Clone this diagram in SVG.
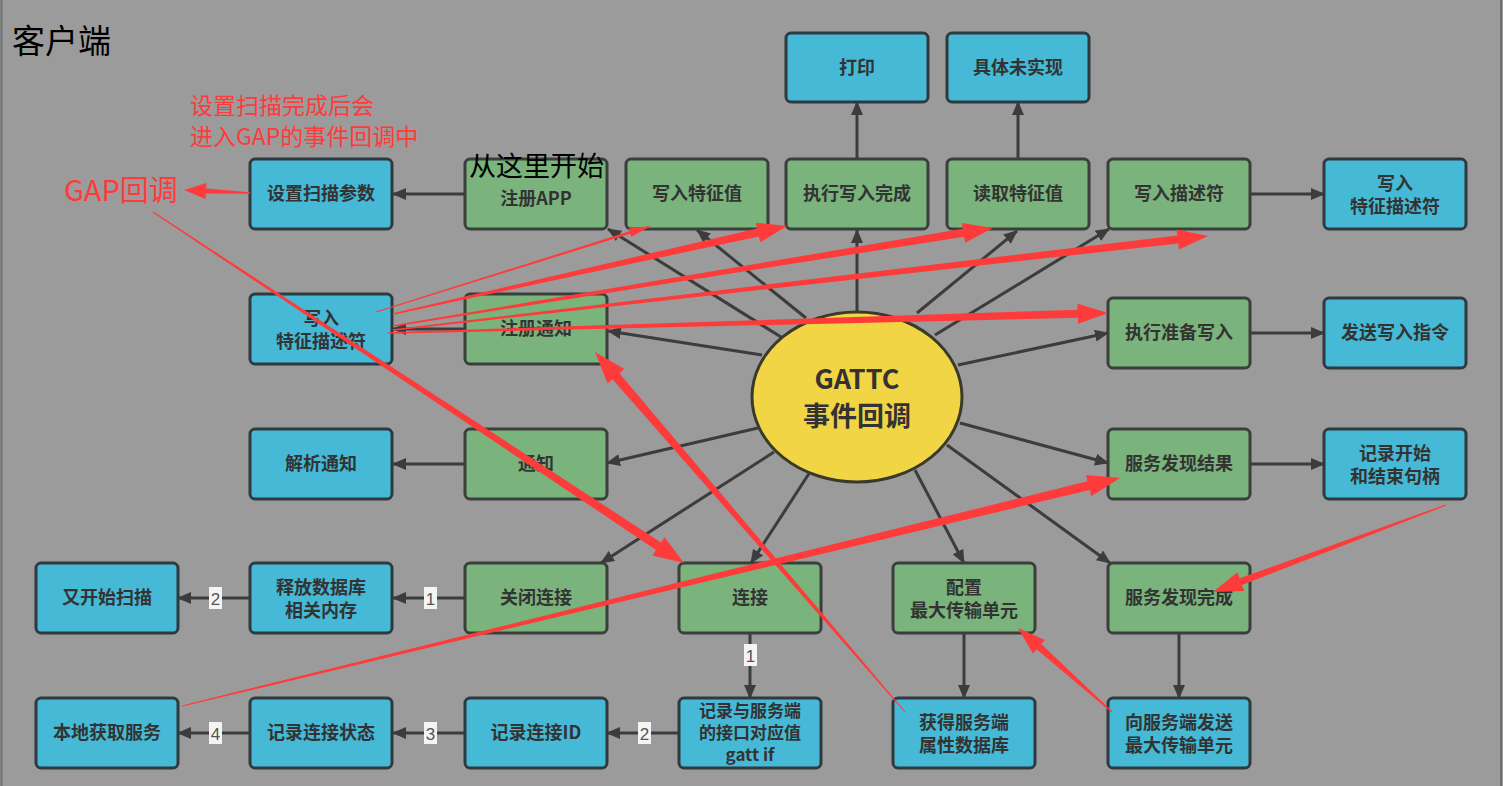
<svg xmlns="http://www.w3.org/2000/svg" width="1503" height="786" viewBox="0 0 1503 786">
<defs>
<style>
.g{fill:#7ab37c;stroke:#3a3f3c;stroke-width:3}
.b{fill:#45b9d5;stroke:#2f3a40;stroke-width:3}
.t{font-family:"Noto Sans CJK SC","Noto Sans",sans-serif;font-weight:700;font-size:18px;fill:#333;text-anchor:middle}
.t3{font-size:17px}
.c{stroke:#3c3c3c;stroke-width:3;fill:none;marker-end:url(#ah)}
.lr{fill:#f4f4f4}
.lt{font-family:"Liberation Sans",sans-serif;font-size:17px;fill:#555;text-anchor:middle}
.red{fill:#fe3b3b}
.rt{font-family:"Noto Sans CJK SC",sans-serif;fill:#fe3b3b}
.bt{font-family:"Noto Sans CJK SC",sans-serif;fill:#000}
</style>
<marker id="ah" viewBox="0 0 14 12" refX="13" refY="6" markerWidth="14" markerHeight="12" markerUnits="userSpaceOnUse" orient="auto">
<path d="M0,0 L14,6 L0,12 Z" fill="#3c3c3c"/>
</marker>
</defs>
<rect x="0" y="0" width="1503" height="786" fill="#9b9b9b"/>
<line x1="1.5" y1="0" x2="1.5" y2="786" stroke="#6e6e6e" stroke-width="2"/>
<line x1="1501" y1="0" x2="1501" y2="786" stroke="#6e6e6e" stroke-width="2"/>

<g id="connectors">
<line class="c" x1="781" y1="337" x2="608" y2="229"/>
<line class="c" x1="806" y1="318" x2="697" y2="230"/>
<line class="c" x1="857" y1="312" x2="857" y2="230"/>
<line class="c" x1="917" y1="313" x2="1017" y2="231"/>
<line class="c" x1="935" y1="335" x2="1109" y2="229"/>
<line class="c" x1="762" y1="355" x2="608" y2="331"/>
<line class="c" x1="958" y1="365" x2="1108" y2="333"/>
<line class="c" x1="758" y1="428" x2="607" y2="463"/>
<line class="c" x1="960" y1="423" x2="1108" y2="463"/>
<line class="c" x1="774" y1="452" x2="601" y2="563"/>
<line class="c" x1="810" y1="472" x2="751" y2="563"/>
<line class="c" x1="915" y1="470" x2="964" y2="563"/>
<line class="c" x1="947" y1="445" x2="1110" y2="563"/>
<line class="c" x1="465" y1="194" x2="393" y2="194"/>
<line class="c" x1="465" y1="329" x2="393" y2="329"/>
<line class="c" x1="465" y1="464" x2="393" y2="464"/>
<line class="c" x1="857" y1="159" x2="857" y2="102"/>
<line class="c" x1="1018" y1="159" x2="1018" y2="102"/>
<line class="c" x1="1250" y1="194" x2="1324" y2="194"/>
<line class="c" x1="1250" y1="333" x2="1324" y2="333"/>
<line class="c" x1="1250" y1="464" x2="1324" y2="464"/>
<line class="c" x1="465" y1="598" x2="393" y2="598"/>
<line class="c" x1="250" y1="598" x2="178" y2="598"/>
<line class="c" x1="750" y1="633" x2="750" y2="698"/>
<line class="c" x1="679" y1="733" x2="607" y2="733"/>
<line class="c" x1="465" y1="733" x2="393" y2="733"/>
<line class="c" x1="250" y1="733" x2="178" y2="733"/>
<line class="c" x1="964" y1="633" x2="964" y2="698"/>
<line class="c" x1="1179" y1="633" x2="1179" y2="698"/>
<rect class="lr" x="424" y="587" width="13" height="22"/><text class="lt" x="430.5" y="605">1</text>
<rect class="lr" x="209" y="587" width="13" height="22"/><text class="lt" x="215.5" y="605">2</text>
<rect class="lr" x="744" y="644" width="13" height="22"/><text class="lt" x="750.5" y="662">1</text>
<rect class="lr" x="638" y="722" width="13" height="22"/><text class="lt" x="644.5" y="740">2</text>
<rect class="lr" x="424" y="722" width="13" height="22"/><text class="lt" x="430.5" y="740">3</text>
<rect class="lr" x="209" y="722" width="13" height="22"/><text class="lt" x="215.5" y="740">4</text>
</g>

<g id="gattc">
<ellipse cx="857" cy="397" rx="105" ry="85" fill="#f2d544" stroke="#3a3a2a" stroke-width="3"/>
<text class="t" x="857" y="389" style="font-size:27px">GATTC</text>
<text class="t" x="857" y="426" style="font-size:27px">事件回调</text>
</g>

<g id="n_scan"><rect class="b" x="250" y="159" width="142" height="70" rx="5"/><text class="t" x="321" y="200">设置扫描参数</text></g>
<g id="n_regapp"><rect class="g" x="465" y="159" width="142" height="70" rx="5"/><text class="t" x="536" y="205">注册APP</text></g>
<g id="n_wchar"><rect class="g" x="626" y="159" width="142" height="70" rx="5"/><text class="t" x="697" y="200">写入特征值</text></g>
<g id="n_execw"><rect class="g" x="786" y="159" width="142" height="70" rx="5"/><text class="t" x="857" y="200">执行写入完成</text></g>
<g id="n_readc"><rect class="g" x="947" y="159" width="142" height="70" rx="5"/><text class="t" x="1018" y="200">读取特征值</text></g>
<g id="n_wdesc"><rect class="g" x="1108" y="159" width="142" height="70" rx="5"/><text class="t" x="1179" y="200">写入描述符</text></g>
<g id="n_wcdesc_r"><rect class="b" x="1324" y="159" width="142" height="70" rx="5"/><text class="t" x="1395" y="190">写入</text><text class="t" x="1395" y="213">特征描述符</text></g>
<g id="n_print"><rect class="b" x="786" y="33" width="142" height="69" rx="5"/><text class="t" x="857" y="74">打印</text></g>
<g id="n_unimpl"><rect class="b" x="947" y="33" width="142" height="69" rx="5"/><text class="t" x="1018" y="74">具体未实现</text></g>
<g id="n_wcdesc_l"><rect class="b" x="250" y="294" width="142" height="70" rx="5"/><text class="t" x="321" y="325">写入</text><text class="t" x="321" y="348">特征描述符</text></g>
<g id="n_regnot"><rect class="g" x="465" y="294" width="142" height="70" rx="5"/><text class="t" x="536" y="335">注册通知</text></g>
<g id="n_prepw"><rect class="g" x="1108" y="298" width="142" height="70" rx="5"/><text class="t" x="1179" y="339">执行准备写入</text></g>
<g id="n_sendw"><rect class="b" x="1324" y="298" width="142" height="70" rx="5"/><text class="t" x="1395" y="339">发送写入指令</text></g>
<g id="n_parse"><rect class="b" x="250" y="429" width="142" height="70" rx="5"/><text class="t" x="321" y="470">解析通知</text></g>
<g id="n_notify"><rect class="g" x="465" y="429" width="142" height="70" rx="5"/><text class="t" x="536" y="470">通知</text></g>
<g id="n_svcres"><rect class="g" x="1108" y="429" width="142" height="70" rx="5"/><text class="t" x="1179" y="470">服务发现结果</text></g>
<g id="n_handles"><rect class="b" x="1324" y="429" width="142" height="70" rx="5"/><text class="t" x="1395" y="460">记录开始</text><text class="t" x="1395" y="483">和结束句柄</text></g>
<g id="n_rescan"><rect class="b" x="36" y="563" width="142" height="70" rx="5"/><text class="t" x="107" y="604">又开始扫描</text></g>
<g id="n_free"><rect class="b" x="250" y="563" width="142" height="70" rx="5"/><text class="t" x="321" y="594">释放数据库</text><text class="t" x="321" y="617">相关内存</text></g>
<g id="n_close"><rect class="g" x="465" y="563" width="142" height="70" rx="5"/><text class="t" x="536" y="604">关闭连接</text></g>
<g id="n_conn"><rect class="g" x="679" y="563" width="142" height="70" rx="5"/><text class="t" x="750" y="604">连接</text></g>
<g id="n_mtu"><rect class="g" x="893" y="563" width="142" height="70" rx="5"/><text class="t" x="964" y="594">配置</text><text class="t" x="964" y="617">最大传输单元</text></g>
<g id="n_svcdone"><rect class="g" x="1108" y="563" width="142" height="70" rx="5"/><text class="t" x="1179" y="604">服务发现完成</text></g>
<g id="n_local"><rect class="b" x="36" y="698" width="142" height="70" rx="5"/><text class="t" x="107" y="739">本地获取服务</text></g>
<g id="n_state"><rect class="b" x="250" y="698" width="142" height="70" rx="5"/><text class="t" x="321" y="739">记录连接状态</text></g>
<g id="n_connid"><rect class="b" x="465" y="698" width="142" height="70" rx="5"/><text class="t" x="536" y="739">记录连接ID</text></g>
<g id="n_gattif"><rect class="b" x="679" y="698" width="142" height="70" rx="5"/><text class="t t3" x="750" y="717">记录与服务端</text><text class="t t3" x="750" y="739">的接口对应值</text><text class="t t3" x="750" y="761">gatt if</text></g>
<g id="n_db"><rect class="b" x="893" y="698" width="142" height="70" rx="5"/><text class="t" x="964" y="729">获得服务端</text><text class="t" x="964" y="752">属性数据库</text></g>
<g id="n_sendmtu"><rect class="b" x="1108" y="698" width="142" height="70" rx="5"/><text class="t" x="1179" y="729">向服务端发送</text><text class="t" x="1179" y="752">最大传输单元</text></g>

<g id="labels">
<text class="bt" x="12" y="53" style="font-size:33px">客户端</text>
<text class="bt" x="469" y="176" style="font-size:27px">从这里开始</text>
<text class="rt" x="190" y="114" style="font-size:23px">设置扫描完成后会</text>
<text class="rt" x="190" y="145" style="font-size:23px">进入GAP的事件回调中</text>
<text class="rt" x="64" y="201" style="font-size:29px">GAP回调</text>
</g>

<g id="annotations" class="red">
<polygon transform="translate(250,193) rotate(-177.4)" points="0,-0.7 44,-2.5 44,-8 66,0 44,8 44,2.5 0,0.7"/>
<polygon transform="translate(376,312) rotate(-17.37)" points="0,-0.6 266,-1.3 266,-4.5 288,0 266,4.5 266,1.3 0,0.6"/>
<polygon transform="translate(393,314) rotate(-12.59)" points="0,-0.8 374,-4 374,-10 403.7,0 374,10 374,4 0,0.8"/>
<polygon transform="translate(393,326) rotate(-9.28)" points="0,-0.8 578,-4 578,-10 608,0 578,10 578,4 0,0.8"/>
<polygon transform="translate(393,330) rotate(-6.58)" points="0,-0.8 790,-4 790,-10 820.4,0 790,10 790,4 0,0.8"/>
<polygon transform="translate(388,333) rotate(-1.59)" points="0,-0.8 690,-4 690,-10 720.3,0 690,10 690,4 0,0.8"/>
<polygon transform="translate(153,212) rotate(33.47)" points="0,-0.5 606,-4.5 606,-11 636.5,0 606,11 606,4.5 0,0.5"/>
<polygon transform="translate(905,712) rotate(-130.73)" points="0,-0.5 443,-4.5 443,-11 475.1,0 443,11 443,4.5 0,0.5"/>
<polygon transform="translate(182,706) rotate(-13.66)" points="0,-0.6 933,-4.5 933,-11 965.3,0 933,11 933,4.5 0,0.6"/>
<polygon transform="translate(1446,505) rotate(159.52)" points="0,-0.6 219,-3.5 219,-10 248.7,0 219,10 219,3.5 0,0.6"/>
<polygon transform="translate(1112,712) rotate(-138.22)" points="0,-0.6 98,-3.5 98,-9 126.1,0 98,9 98,3.5 0,0.6"/>
</g>
</svg>
